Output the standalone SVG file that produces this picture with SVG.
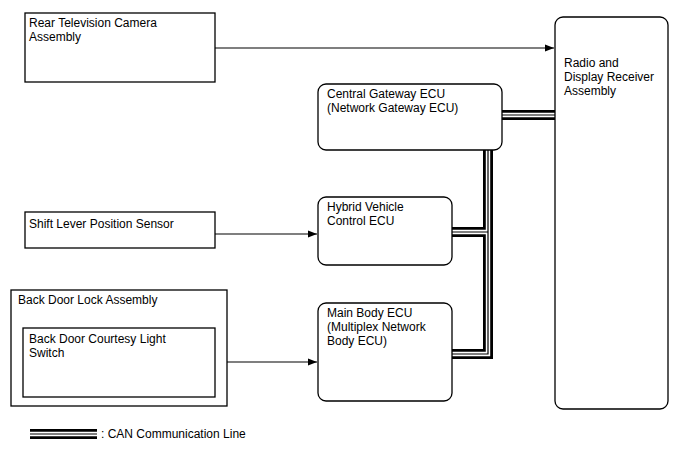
<svg xmlns="http://www.w3.org/2000/svg" width="688" height="463" viewBox="0 0 688 463">
<defs>
<marker id="ah" markerWidth="10" markerHeight="8" refX="9" refY="4" orient="auto" markerUnits="userSpaceOnUse">
<path d="M0,0.5 L9,4 L0,7.5 Z" fill="#000"/>
</marker>
<style>
.box{fill:#fff;stroke:#000;stroke-width:1.3}
.t{font-family:"Liberation Sans",Arial,sans-serif;font-size:12px;fill:#000}
.arr{fill:none;stroke:#000;stroke-width:1.2;marker-end:url(#ah)}
.c1{fill:none;stroke:#000;stroke-width:10;stroke-linejoin:miter;stroke-linecap:butt}
.c2{fill:none;stroke:#fff;stroke-width:4.4;stroke-linejoin:miter;stroke-linecap:butt}
.c3{fill:none;stroke:#000;stroke-width:1.2;stroke-linejoin:miter;stroke-linecap:butt}
</style>
</defs>
<rect width="688" height="463" fill="#fff"/>
<g id="connectors">
<path class="arr" d="M215,48 H554"/>
<path class="arr" d="M215,234 H317"/>
<path class="arr" d="M215,362 H317"/>
<path class="c1" d="M502,115 H555"/>
<path class="c1" d="M488,150 V354 H452"/>
<path class="c1" d="M488,232 H452"/>
<path class="c2" d="M502,115 H555"/>
<path class="c2" d="M488,150 V354 H452"/>
<path class="c2" d="M488,232 H452"/>
<path class="c3" d="M502,115 H555"/>
<path class="c3" d="M488,150 V354 H452"/>
<path class="c3" d="M488,232 H452"/>
</g>
<g id="rear-camera">
<rect class="box" x="25" y="13" width="190" height="69"/>
<text class="t" x="29" y="27">Rear Television Camera</text>
<text class="t" x="29" y="41">Assembly</text>
</g>
<g id="radio-display">
<rect class="box" x="555" y="17" width="113" height="392" rx="8"/>
<text class="t" x="564" y="67">Radio and</text>
<text class="t" x="564" y="81">Display Receiver</text>
<text class="t" x="564" y="95">Assembly</text>
</g>
<g id="central-gateway">
<rect class="box" x="318" y="84" width="184" height="66" rx="8"/>
<text class="t" x="327" y="98">Central Gateway ECU</text>
<text class="t" x="327" y="112">(Network Gateway ECU)</text>
</g>
<g id="shift-lever">
<rect class="box" x="25" y="212" width="190" height="36"/>
<text class="t" x="29" y="228">Shift Lever Position Sensor</text>
</g>
<g id="hybrid-ecu">
<rect class="box" x="318" y="197" width="134" height="68" rx="8"/>
<text class="t" x="327" y="211">Hybrid Vehicle</text>
<text class="t" x="327" y="225">Control ECU</text>
</g>
<g id="back-door-lock">
<rect class="box" x="11" y="290" width="216" height="116"/>
<text class="t" x="18" y="304">Back Door Lock Assembly</text>
</g>
<g id="courtesy-switch">
<rect class="box" x="23" y="328" width="192" height="69"/>
<text class="t" x="29" y="343">Back Door Courtesy Light</text>
<text class="t" x="29" y="357">Switch</text>
</g>
<g id="main-body-ecu">
<rect class="box" x="318" y="303" width="134" height="98" rx="8"/>
<text class="t" x="327" y="317">Main Body ECU</text>
<text class="t" x="327" y="331">(Multiplex Network</text>
<text class="t" x="327" y="345">Body ECU)</text>
</g>
<g id="legend">
<path class="c1" d="M30,434 H97"/>
<path class="c2" d="M30,434 H97"/>
<path class="c3" d="M30,434 H97"/>
<text class="t" x="101" y="438">: CAN Communication Line</text>
</g>
</svg>
